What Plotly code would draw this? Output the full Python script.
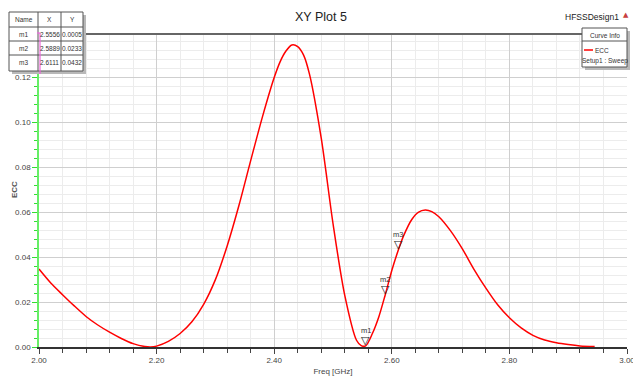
import plotly.graph_objects as go

# ---------------- data ----------------
freq = [2.00, 2.02, 2.04, 2.06, 2.08, 2.10, 2.12, 2.14, 2.16, 2.18, 2.19, 2.20,
        2.22, 2.24, 2.26, 2.28, 2.30, 2.32, 2.34, 2.36, 2.38, 2.40, 2.41, 2.42, 2.43,
        2.44, 2.45, 2.46, 2.48, 2.50, 2.52, 2.54, 2.548, 2.5556, 2.567, 2.578, 2.5889, 2.6005,
        2.6111, 2.62, 2.634, 2.645, 2.657, 2.668, 2.68, 2.70, 2.72, 2.74, 2.76, 2.78, 2.80,
        2.82, 2.84, 2.86, 2.88, 2.90, 2.92, 2.945]
ecc = [0.0347, 0.0285, 0.0233, 0.0183, 0.0136, 0.0098, 0.0066, 0.0038, 0.0015, 0.0002, 0.0000, 0.0004,
       0.0025, 0.0060, 0.0112, 0.0190, 0.0300, 0.0450, 0.0630, 0.0830, 0.1025, 0.1200, 0.1270, 0.1318, 0.1345,
       0.1338, 0.1300, 0.1215, 0.0930, 0.0550, 0.0230, 0.0030, 0.0006, 0.0005, 0.0060, 0.0135, 0.0233, 0.0345,
       0.0432, 0.0495, 0.0568, 0.0600, 0.0610, 0.0603, 0.0580, 0.0517, 0.0437, 0.0345, 0.0262, 0.0188, 0.0130,
       0.0085, 0.0052, 0.0031, 0.0019, 0.0011, 0.0005, 0.0002]

marker_names = ["m1", "m2", "m3"]
marker_x = [2.5556, 2.5889, 2.6111]
marker_y = [0.0005, 0.0233, 0.0432]
marker_x_text = ["2.5556", "2.5889", "2.6111"]
marker_y_text = ["0.0005", "0.0233", "0.0432"]

x_ticks = [2.00, 2.20, 2.40, 2.60, 2.80, 3.00]
y_ticks = [0.00, 0.02, 0.04, 0.06, 0.08, 0.10, 0.12]

# ---------------- layout helpers ----------------
W, H = 633, 380
L, R, T, B = 39, 6, 34, 33
PW, PH = W - L - R, H - T - B


def px(x):
    return (x - L) / PW


def py(y):
    return (H - B - y) / PH


FONT = "Liberation Sans Narrow, Arial Narrow, Liberation Sans, sans-serif"
SMALL = 6.5


def label(xp, yp, text, size=SMALL, color="#333", family=FONT, angle=0):
    return dict(x=px(xp), y=py(yp), xref="paper", yref="paper", text=text, showarrow=False,
                xanchor="center", yanchor="middle", textangle=angle,
                font=dict(size=size, color=color, family=family))


fig = go.Figure()
fig.add_trace(go.Scatter(x=freq, y=ecc, mode="lines",
                         line=dict(color="#ff0000", width=1.5, shape="spline", smoothing=0.8),
                         name="ECC", hoverinfo="x+y"))

shapes = []
annotations = []

# markers (triangle + label) from data
for n, mx, my in zip(marker_names, marker_x, marker_y):
    annotations.append(dict(x=mx, y=my, xref="x", yref="y", text="▽", showarrow=False,
                            xanchor="center", yanchor="bottom", yshift=-3,
                            font=dict(size=11, color="#222", family="DejaVu Sans")))
    annotations.append(dict(x=mx, y=my, xref="x", yref="y", text=n, showarrow=False,
                            xanchor="center", yanchor="bottom", yshift=9,
                            font=dict(size=7.5, color="#333", family=FONT)))

# top border of plot
shapes.append(dict(type="line", xref="paper", yref="paper", x0=0, x1=1, y0=1, y1=1,
                   line=dict(color="#666", width=2)))

# ---- marker table ----
tx0, tx1, ty0, ty1 = 9, 83, 12, 71
shapes.append(dict(type="rect", xref="paper", yref="paper", x0=px(tx0 + 3), x1=px(tx1 + 3),
                   y0=py(ty0 + 3), y1=py(ty1 + 3), fillcolor="#b8b8b8", line=dict(width=0)))
shapes.append(dict(type="rect", xref="paper", yref="paper", x0=px(tx0), x1=px(tx1),
                   y0=py(ty0), y1=py(ty1), fillcolor="white", line=dict(color="#555", width=1)))
row_lines = [27, 41, 55]
for ry in row_lines:
    shapes.append(dict(type="line", xref="paper", yref="paper", x0=px(tx0), x1=px(tx1),
                       y0=py(ry), y1=py(ry), line=dict(color="#555", width=1)))
col_lines = [38, 61]
for cx in col_lines:
    shapes.append(dict(type="line", xref="paper", yref="paper", x0=px(cx), x1=px(cx),
                       y0=py(ty0), y1=py(ty1), line=dict(color="#555", width=1)))
col_centers = [23.5, 49.5, 72]
row_centers = [19.5, 34, 48, 63]
header = ["Name", "X", "Y"]
for c, h in zip(col_centers, header):
    annotations.append(label(c, row_centers[0], h))
for i in range(len(marker_names)):
    vals = [marker_names[i], marker_x_text[i], marker_y_text[i]]
    for c, v in zip(col_centers, vals):
        annotations.append(label(c, row_centers[i + 1], v))
# pink bracket
shapes.append(dict(type="line", xref="paper", yref="paper", x0=px(40), x1=px(40), y0=py(33), y1=py(74),
                   line=dict(color="#ee66dd", width=1.2)))
shapes.append(dict(type="line", xref="paper", yref="paper", x0=px(37), x1=px(40), y0=py(33), y1=py(33),
                   line=dict(color="#ee66dd", width=1.2)))

# ---- curve info legend ----
lx0, lx1, ly0, ly1 = 582, 627, 28, 67
shapes.append(dict(type="rect", xref="paper", yref="paper", x0=px(lx0 + 3), x1=px(lx1 + 3),
                   y0=py(ly0 + 3), y1=py(ly1 + 3), fillcolor="#b8b8b8", line=dict(width=0)))
shapes.append(dict(type="rect", xref="paper", yref="paper", x0=px(lx0), x1=px(lx1),
                   y0=py(ly0), y1=py(ly1), fillcolor="white", line=dict(color="#555", width=1)))
shapes.append(dict(type="line", xref="paper", yref="paper", x0=px(lx0), x1=px(lx1),
                   y0=py(41), y1=py(41), line=dict(color="#555", width=1)))
shapes.append(dict(type="line", xref="paper", yref="paper", x0=px(584), x1=px(593),
                   y0=py(50), y1=py(50), line=dict(color="#ff0000", width=1.5)))
annotations.append(label(604.5, 35, "Curve Info"))
annotations.append(label(602, 50, "ECC"))
annotations.append(label(604.5, 60.5, "Setup1 : Sweep"))

# ---- title texts ----
annotations.append(label(321, 17, "XY Plot 5", size=12.5, color="#222"))
annotations.append(label(592, 17, "HFSSDesign1", size=8.5, color="#222"))
annotations.append(label(626, 15, "▲", size=7, color="#c84040", family="DejaVu Sans"))
# y-axis title
annotations.append(label(14, 190, "<b>ECC</b>", size=8, color="#555", angle=-90))

fig.update_layout(
    width=W, height=H,
    margin=dict(l=L, r=R, t=T, b=B, pad=0),
    paper_bgcolor="white", plot_bgcolor="white",
    showlegend=False,
    shapes=shapes, annotations=annotations,
    font=dict(family=FONT, size=8, color="#333"),
    xaxis=dict(
        range=[2.0, 3.0], tickvals=x_ticks, ticktext=[f"{v:.2f}" for v in x_ticks],
        automargin=False, ticklabeloverflow="allow",
        showgrid=True, gridcolor="#cfcfcf", gridwidth=1,
        minor=dict(dtick=0.04, tick0=2.0, showgrid=True, gridcolor="#ececec", ticks="outside",
                   ticklen=4, tickcolor="#444"),
        ticks="outside", ticklen=5, tickcolor="#444",
        showline=True, linecolor="#333", linewidth=1.5,
        zeroline=False,
        tickfont=dict(size=8, color="#444", family=FONT),
        title=dict(text="Freq [GHz]", font=dict(size=8, color="#444", family=FONT), standoff=4),
    ),
    yaxis=dict(
        range=[0, 0.1394], tickvals=y_ticks, ticktext=[f"{v:.2f}" for v in y_ticks],
        automargin=False,
        showgrid=True, gridcolor="#cfcfcf", gridwidth=1,
        minor=dict(dtick=0.004, tick0=0, showgrid=True, gridcolor="#ececec", ticks="outside",
                   ticklen=3, tickcolor="#33dd33"),
        ticks="outside", ticklen=5, tickcolor="#33dd33",
        showline=True, linecolor="#66ee66", linewidth=1.5,
        zeroline=False,
        tickfont=dict(size=8, color="#444", family=FONT),
    ),
)

fig.write_html("out.html", config={"displayModeBar": False},
               post_script="document.body.style.margin='0';document.body.style.overflow='hidden';")
